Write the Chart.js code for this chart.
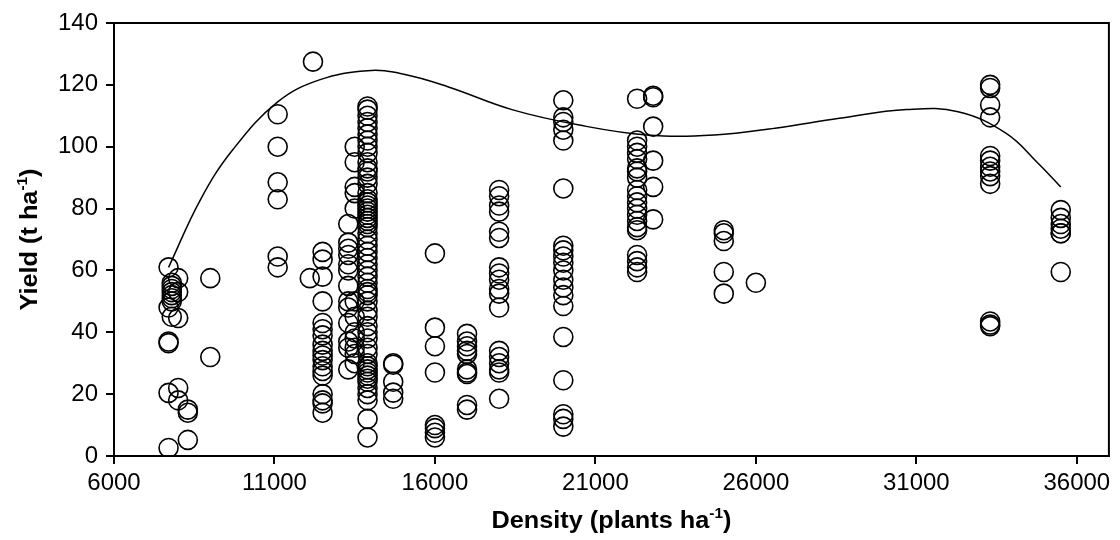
<!DOCTYPE html>
<html>
<head>
<meta charset="utf-8">
<script src="https://cdn.jsdelivr.net/npm/chart.js@4.4.1/dist/chart.umd.min.js"></script>
<style>
  body { margin: 0; background: #fff; }
  #wrap { width: 1120px; height: 540px; }
</style>
</head>
<body>
<div id="wrap"><canvas id="yield_chart" width="1120" height="540"></canvas></div>
<script>
// data
const densities = [7700, 7800, 8000, 8300, 9000, 11100, 12100, 12200, 12500, 13300, 13500, 13900,
                   14700, 16000, 17000, 18000, 20000, 22300, 22800, 25000, 26000, 33300, 35500];
const yields = [
    [61, 48, 37, 36.5, 20.4, 2.6],
    [56, 55, 54, 53, 52, 51, 50, 45],
    [57.5, 53, 44.6, 22, 18],
    [15, 14, 5.2],
    [57.5, 32],
    [110.5, 100, 88.5, 83, 64.5, 61],
    [57.5],
    [127.5],
    [66, 63.5, 58, 50, 43, 41, 39, 36, 34, 32.5, 31, 29, 27.5, 26, 20, 18, 17, 14],
    [75, 69, 67, 65, 62, 60, 55, 50, 48, 43, 37, 35, 28],
    [100, 95, 87, 85, 80, 50, 45, 40, 38, 35, 33, 30],
    [113, 112, 110, 108, 106, 104, 102, 100, 98, 95, 93, 92, 90, 88, 85, 83, 82, 81, 80, 79, 78, 77,
     76, 75, 74, 72, 70, 68, 66, 64, 62, 60, 58, 56, 54, 53, 52, 50, 47, 45, 42, 40, 38, 35, 33, 30,
     29, 28, 27, 26, 25, 24, 22, 20, 18, 12, 6],
    [30, 29.5, 24, 20.5, 18.5],
    [65.5, 41.5, 35.5, 27, 10, 9, 7.5, 6],
    [39.5, 37, 35.5, 34, 33, 28, 27, 26.5, 16.5, 15],
    [86, 84, 81, 79, 72.5, 70.5, 61, 59, 57, 54, 52.5, 48, 34, 32, 30, 28, 27, 18.5],
    [115, 109.5, 108, 105.5, 102, 86.5, 68, 66.5, 64.5, 62.5, 60, 57, 54.5, 52, 48.5, 38.5, 24.5, 13.5, 12, 9.5],
    [115.5, 102, 100, 98, 96, 93, 92, 90, 86, 84, 82, 80, 78, 76, 74, 73, 65, 63, 61, 59.5],
    [116.5, 116, 106.5, 95.5, 87, 76.5],
    [73, 72, 69.5, 59.5, 52.5],
    [56],
    [120, 119, 113.5, 109.5, 97, 95.5, 93.5, 92, 90.5, 88, 43.5, 42.5, 42],
    [79.5, 77, 75, 73.5, 72, 72, 59.5]
];

// fitted curve
const fitX = [7700, 8700, 9700, 11100, 12400, 13900, 15000, 16400, 18400, 20500,
              22600, 24700, 26600, 28600, 30700, 32300, 33800, 34800, 35500];
const fitY = [61, 83, 99, 114.5, 121.6, 124.6, 123.5, 119.4, 112, 107,
              103.8, 103.8, 106, 109.2, 112, 111.3, 104.3, 94.6, 87];

const xTicks = [6000, 11000, 16000, 21000, 26000, 31000, 36000];
const yTicks = [0, 20, 40, 60, 80, 100, 120, 140];

const FONT = 'Arial, "Liberation Sans", sans-serif';
Chart.defaults.font.family = FONT;
Chart.defaults.color = '#000';

const points = [];
densities.forEach((d, i) => yields[i].forEach(v => points.push({x: d, y: v})));
const fitLine = fitX.map((x, i) => ({x: x, y: fitY[i]}));

// draws text with superscript parts: segs = [[text, sup], ...]
const drawRich = (ctx, segs, cx, cy, size, stretch) => {
    const big = 'bold ' + size + 'px ' + FONT;
    const small = 'bold ' + Math.round(size * 0.62) + 'px ' + FONT;
    let total = 0;
    segs.forEach(s => { ctx.font = s[1] ? small : big; total += ctx.measureText(s[0]).width; });
    ctx.save();
    ctx.translate(cx, cy);
    ctx.scale(stretch, 1);
    let x = -total / 2;
    ctx.textBaseline = 'middle';
    ctx.textAlign = 'left';
    segs.forEach(s => {
        ctx.font = s[1] ? small : big;
        ctx.fillText(s[0], x, s[1] ? -size * 0.35 : 0);
        x += ctx.measureText(s[0]).width;
    });
    ctx.restore();
};

const framePlugin = {
    id: 'frame',
    afterDraw(chart) {
        const {ctx, chartArea: a} = chart;
        ctx.save();
        ctx.strokeStyle = '#000';
        ctx.lineWidth = 2;
        ctx.strokeRect(a.left, a.top, a.right - a.left, a.bottom - a.top);
        ctx.fillStyle = '#000';
        drawRich(ctx, [['Density (plants ha', false], ['-1', true], [')', false]],
                 (a.left + a.right) / 2, 522, 23, 1.1);
        ctx.translate(31, (a.top + a.bottom) / 2);
        ctx.rotate(-Math.PI / 2);
        drawRich(ctx, [['Yield (t ha', false], ['-1', true], [')', false]], 0, 0, 23, 1.1);
        ctx.restore();
    }
};

const axisCommon = {
    type: 'linear',
    grid: { display: true, drawOnChartArea: false, drawTicks: true, tickLength: 8, color: '#000', lineWidth: 2 },
    border: { display: true, color: '#000', width: 2 },
    ticks: { color: '#000', font: { size: 24 }, callback: v => String(v) }
};

var yield_chart_ref = new Chart(document.getElementById('yield_chart'), {
    type: 'scatter',
    data: {
        datasets: [{
            label: 'observed',
            data: points,
            pointStyle: 'circle',
            pointRadius: 9.5,
            pointHoverRadius: 9.5,
            backgroundColor: 'rgba(0,0,0,0)',
            borderColor: '#000',
            borderWidth: 1.6
        }, {
            label: 'fit',
            type: 'line',
            data: fitLine,
            showLine: true,
            pointRadius: 0,
            borderColor: '#000',
            borderWidth: 1.5,
            fill: false,
            tension: 0.4
        }]
    },
    options: {
        responsive: false,
        animation: false,
        layout: { padding: { top: 23, right: 11, left: 0, bottom: 0 } },
        plugins: { legend: { display: false }, tooltip: { enabled: false } },
        scales: {
            x: Object.assign({}, axisCommon, {
                min: 6000, max: 37000,
                afterBuildTicks: s => { s.ticks = xTicks.map(v => ({value: v})); },
                afterFit: s => { s.height = 84; },
                ticks: Object.assign({}, axisCommon.ticks, { padding: 5, maxRotation: 0 })
            }),
            y: Object.assign({}, axisCommon, {
                min: 0, max: 140,
                afterBuildTicks: s => { s.ticks = yTicks.map(v => ({value: v})); },
                afterFit: s => { s.width = 114; },
                ticks: Object.assign({}, axisCommon.ticks, { padding: 8 })
            })
        }
    },
    plugins: [framePlugin]
});
</script>
</body>
</html>
